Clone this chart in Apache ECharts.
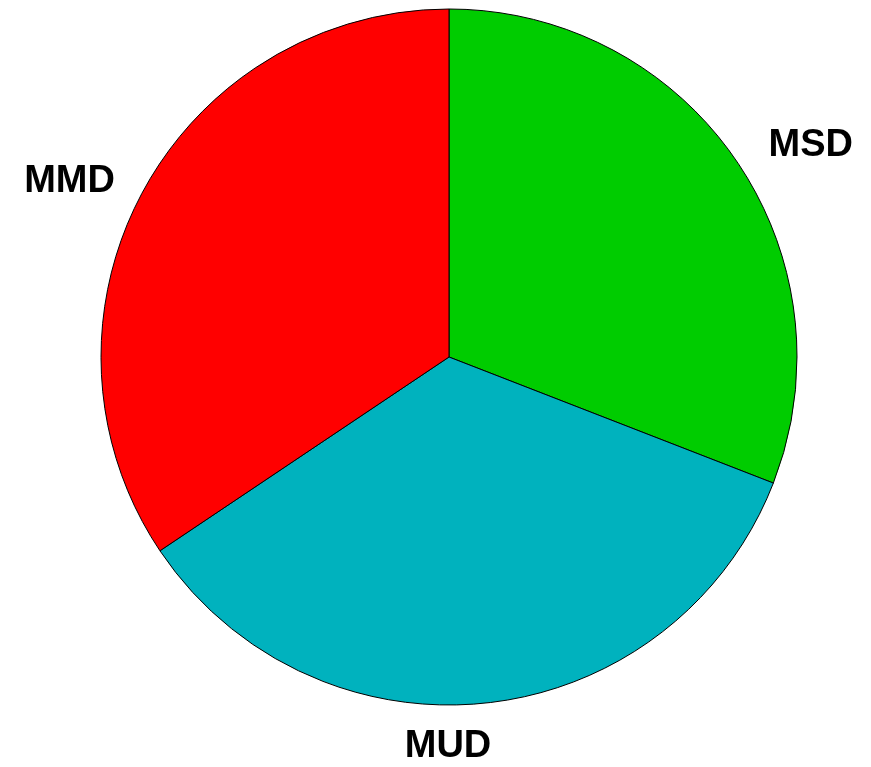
<!DOCTYPE html>
<html>
<head>
<meta charset="utf-8">
<script src="https://cdn.jsdelivr.net/npm/echarts@6/dist/echarts.min.js"></script>
<style>
  html, body { margin: 0; padding: 0; background: #fff; }
  #chart { width: 871px; height: 767px; }
</style>
</head>
<body>
<div id="chart"></div>
<script>
// slices go clockwise from 12 o'clock
const categories = ['MSD', 'MUD', 'MMD'];
const values = [30.9, 34.7, 34.4];
const colors = ['#00cc00', '#00b2be', '#ff0000'];

const centerX = 449;
const centerY = 357;

// label offsets per slice (length out from the rim, then sideways)
const labelLines = {
  MSD: { length: 27, length2: 5 },
  MUD: { length: 44, length2: 0 },
  MMD: { length: 25, length2: 0 }
};

const chart = echarts.init(document.getElementById('chart'));

chart.setOption({
  animation: false,
  series: [{
    type: 'pie',
    center: [centerX, centerY],
    radius: 348,
    startAngle: 90,
    clockwise: true,
    data: categories.map((name, i) => ({
      name,
      value: values[i],
      itemStyle: { color: colors[i] },
      labelLine: labelLines[name]
    })),
    itemStyle: {
      borderColor: '#000',
      borderWidth: 1
    },
    label: {
      show: true,
      position: 'outside',
      formatter: '{b}',
      color: '#000',
      fontSize: 38,
      fontWeight: 'bold',
      fontFamily: 'Liberation Sans, Arial, sans-serif'
    },
    labelLine: { show: false },
    emphasis: { disabled: true },
    labelLayout(params) {
      // bottom label sits centred under the pie
      if (params.dataIndex === 1) {
        return { x: centerX - 1, align: 'center' };
      }
    }
  }]
});
</script>
</body>
</html>
